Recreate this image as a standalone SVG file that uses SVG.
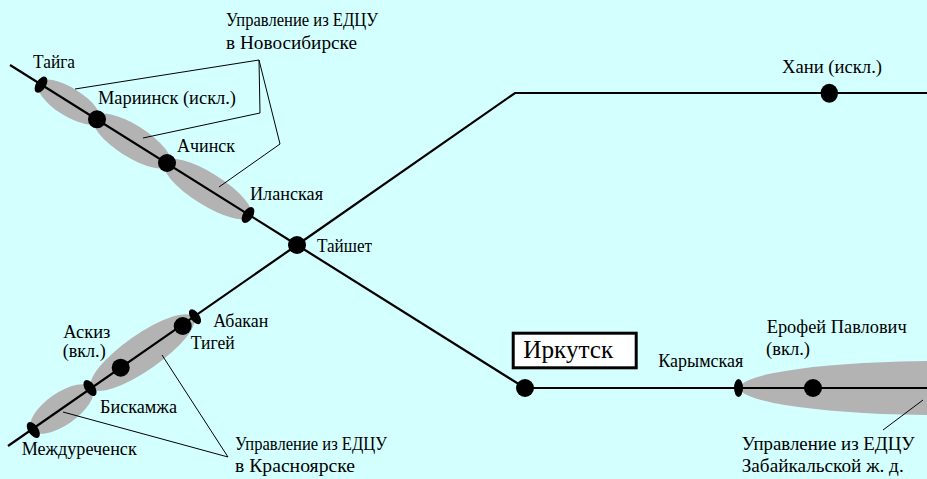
<svg xmlns="http://www.w3.org/2000/svg" width="927" height="479" viewBox="0 0 927 479">
<style>
.bg{fill:#D4FFFF}
.track{stroke:#000;stroke-width:2.2;fill:none}
.ptr{stroke:#000;stroke-width:1;fill:none}
.zone{fill:#B3B3B3}
.st{fill:#000}
.box{fill:#fff;stroke:#000;stroke-width:3}
</style>
<rect class="bg" x="0" y="0" width="927" height="479"/>
<g id="zones">
<ellipse class="zone" cx="69" cy="102" rx="36" ry="14" transform="rotate(32.1 69 102)"/>
<ellipse class="zone" cx="132" cy="141" rx="45" ry="16" transform="rotate(32.1 132 141)"/>
<ellipse class="zone" cx="207.5" cy="189" rx="51" ry="16" transform="rotate(32.1 207.5 189)"/>
<ellipse class="zone" cx="61.7" cy="409" rx="37" ry="16" transform="rotate(-34.8 61.7 409)"/>
<ellipse class="zone" cx="142.5" cy="352.5" rx="62" ry="18" transform="rotate(-34.8 142.5 352.5)"/>
<ellipse class="zone" cx="940" cy="388" rx="200" ry="27"/>
</g>
<g id="connectors">
<polyline class="track" points="10,65 297,245 525,388 927,388"/>
<polyline class="track" points="8,446 297,245 515,93 927,93"/>
<line class="ptr" x1="259" y1="60" x2="75" y2="89"/>
<polyline class="ptr" points="259,60 260,113 143,138"/>
<polyline class="ptr" points="259,60 280,144 219,187"/>
<line class="ptr" x1="228" y1="457" x2="63" y2="412"/>
<line class="ptr" x1="228" y1="457" x2="162" y2="355"/>
<line class="ptr" x1="923" y1="400" x2="883" y2="430"/>
</g>
<g id="nodes">
<g id="taiga"><ellipse class="st" cx="41" cy="84.7" rx="5" ry="9" transform="rotate(32.1 41 84.7)"/><text x="33" y="68" font-family="Liberation Serif" font-size="18" textLength="42" lengthAdjust="spacingAndGlyphs">Тайга</text></g>
<g id="mariinsk"><circle class="st" cx="97" cy="119.3" r="9"/><text x="98" y="104.3" font-family="Liberation Serif" font-size="18" textLength="138" lengthAdjust="spacingAndGlyphs">Мариинск (искл.)</text></g>
<g id="achinsk"><circle class="st" cx="167" cy="163" r="9"/><text x="177" y="151.7" font-family="Liberation Serif" font-size="18" textLength="58" lengthAdjust="spacingAndGlyphs">Ачинск</text></g>
<g id="ilanskaya"><ellipse class="st" cx="248" cy="215" rx="5" ry="9" transform="rotate(32.1 248 215)"/><text x="250" y="200" font-family="Liberation Serif" font-size="18" textLength="73" lengthAdjust="spacingAndGlyphs">Иланская</text></g>
<g id="taishet"><circle class="st" cx="297" cy="245" r="9"/><text x="317" y="252" font-family="Liberation Serif" font-size="18" textLength="55" lengthAdjust="spacingAndGlyphs">Тайшет</text></g>
<g id="khani"><ellipse class="st" cx="829.3" cy="93.3" rx="8.7" ry="9.5"/><text x="782" y="73.3" font-family="Liberation Serif" font-size="18" textLength="100" lengthAdjust="spacingAndGlyphs">Хани (искл.)</text></g>
<g id="label-novosibirsk"><text x="226" y="26" font-family="Liberation Serif" font-size="18" textLength="152" lengthAdjust="spacingAndGlyphs">Управление из ЕДЦУ</text><text x="226" y="49" font-family="Liberation Serif" font-size="18" textLength="131" lengthAdjust="spacingAndGlyphs">в Новосибирске</text></g>
<g id="mezhdurechensk"><ellipse class="st" cx="33.3" cy="430" rx="5" ry="9" transform="rotate(-34.8 33.3 430)"/><text x="21.7" y="455" font-family="Liberation Serif" font-size="18" textLength="115" lengthAdjust="spacingAndGlyphs">Междуреченск</text></g>
<g id="biskamzha"><ellipse class="st" cx="90" cy="388" rx="5" ry="9" transform="rotate(-34.8 90 388)"/><text x="100" y="412.7" font-family="Liberation Serif" font-size="18" textLength="77" lengthAdjust="spacingAndGlyphs">Бискамжа</text></g>
<g id="askiz"><circle class="st" cx="120.7" cy="367.7" r="9"/><text x="63.3" y="337.5" font-family="Liberation Serif" font-size="18" textLength="47" lengthAdjust="spacingAndGlyphs">Аскиз</text><text x="62.7" y="356.7" font-family="Liberation Serif" font-size="18" textLength="43" lengthAdjust="spacingAndGlyphs">(вкл.)</text></g>
<g id="tigei"><circle class="st" cx="182.7" cy="326" r="9"/><text x="190.7" y="349.3" font-family="Liberation Serif" font-size="18" textLength="44" lengthAdjust="spacingAndGlyphs">Тигей</text></g>
<g id="abakan"><ellipse class="st" cx="195" cy="316.7" rx="4.5" ry="8.5" transform="rotate(-34.8 195 316.7)"/><text x="213.3" y="327.3" font-family="Liberation Serif" font-size="18" textLength="55" lengthAdjust="spacingAndGlyphs">Абакан</text></g>
<g id="label-krasnoyarsk"><text x="235" y="450" font-family="Liberation Serif" font-size="18" textLength="152" lengthAdjust="spacingAndGlyphs">Управление из ЕДЦУ</text><text x="235" y="471.7" font-family="Liberation Serif" font-size="18" textLength="120" lengthAdjust="spacingAndGlyphs">в Красноярске</text></g>
<g id="irkutsk"><circle class="st" cx="525" cy="388" r="9"/><rect class="box" x="513.2" y="333.2" width="123" height="34.6"/><text x="523.3" y="358.3" font-family="Liberation Serif" font-size="25" textLength="90" lengthAdjust="spacingAndGlyphs">Иркутск</text></g>
<g id="karymskaya"><ellipse class="st" cx="738.5" cy="388" rx="4.5" ry="9"/><text x="658.3" y="366.7" font-family="Liberation Serif" font-size="18" textLength="85" lengthAdjust="spacingAndGlyphs">Карымская</text></g>
<g id="erofei"><circle class="st" cx="813" cy="388" r="9"/><text x="766.7" y="333.3" font-family="Liberation Serif" font-size="18" textLength="140" lengthAdjust="spacingAndGlyphs">Ерофей Павлович</text><text x="766" y="355" font-family="Liberation Serif" font-size="18" textLength="44" lengthAdjust="spacingAndGlyphs">(вкл.)</text></g>
<g id="label-zabaikal"><text x="741.7" y="450" font-family="Liberation Serif" font-size="18.5" textLength="173" lengthAdjust="spacingAndGlyphs">Управление из ЕДЦУ</text><text x="741.7" y="471.7" font-family="Liberation Serif" font-size="18.5" textLength="162" lengthAdjust="spacingAndGlyphs">Забайкальской ж. д.</text></g>
</g>
</svg>
